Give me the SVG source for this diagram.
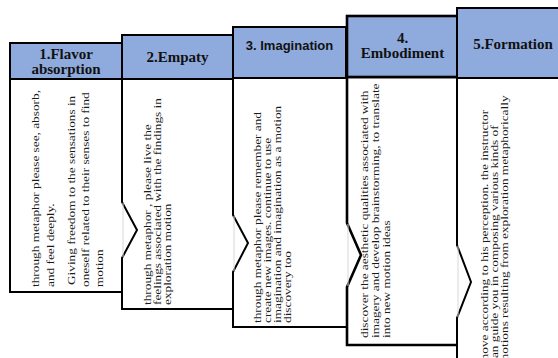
<svg xmlns="http://www.w3.org/2000/svg" width="558" height="358" viewBox="0 0 558 358">
<style>
.body{fill:#fff;stroke:#000;stroke-width:2;stroke-linejoin:miter}
.hdr{fill:#8FAADC;stroke:#000;stroke-width:2}
.thick{stroke-width:2.6}
.faint{stroke:#d8d8d8;stroke-width:1}
.ht{font-family:"Liberation Serif","Times New Roman",serif;font-weight:bold;font-size:15px;fill:#111;text-anchor:middle}
.hs{font-family:"Liberation Sans",Arial,sans-serif;font-weight:bold;font-size:13px;fill:#111;text-anchor:middle}
.bt{font-family:"Liberation Serif","Times New Roman",serif;font-size:10px;fill:#1a1a1a}
</style>
<rect width="558" height="358" fill="#fff"/>
<g id="connectors"></g>
<g id="node1">
<path class="body" d="M122 292 H10 V79 H122"/>
<rect class="hdr" x="10" y="43" width="112" height="36"/>
<text class="ht" x="66" y="59">1.Flavor</text>
<text class="ht" x="66" y="74">absorption</text>
<text class="bt" transform="translate(39,287) rotate(-90) scale(1.33,1)">through metaphor please see, absorb,</text>
<text class="bt" transform="translate(54,287) rotate(-90) scale(1.33,1)">and feel deeply.</text>
<text class="bt" transform="translate(75,285) rotate(-90) scale(1.33,1)">Giving freedom  to the sensations in</text>
<text class="bt" transform="translate(89,287) rotate(-90) scale(1.33,1)">oneself related to their senses to find</text>
<text class="bt" transform="translate(103,287) rotate(-90) scale(1.33,1)">motion</text>
</g>
<g id="node2">
<path class="body" d="M233 309 H122 V258 L137 230 L122 202 V79 H233"/>
<line class="faint" x1="123" y1="203" x2="123" y2="257"/>
<rect class="hdr" x="122" y="35" width="111" height="44"/>
<text class="ht" x="177.5" y="62">2.Empaty</text>
<text class="bt" transform="translate(151,305) rotate(-90) scale(1.33,1)">through metaphor , please live the</text>
<text class="bt" transform="translate(161,305) rotate(-90) scale(1.33,1)">feelings associated with the findings in</text>
<text class="bt" transform="translate(171,305) rotate(-90) scale(1.33,1)">exploration motion</text>
</g>
<g id="node3">
<path class="body" d="M346 327 H233 V272 L248 243 L233 215 V78 H346"/>
<line class="faint" x1="234" y1="216" x2="234" y2="271"/>
<rect class="hdr" x="233" y="27" width="113" height="51"/>
<text class="hs" x="289.5" y="50">3. Imagination</text>
<text class="bt" transform="translate(261,323) rotate(-90) scale(1.33,1)">through metaphor please remember and</text>
<text class="bt" transform="translate(271,323) rotate(-90) scale(1.33,1)">create new images. continue to use</text>
<text class="bt" transform="translate(281,323) rotate(-90) scale(1.33,1)">imagination and imagination as a motion</text>
<text class="bt" transform="translate(291,323) rotate(-90) scale(1.33,1)">discovery too</text>
</g>
<g id="node4">
<path class="body thick" d="M458 345 H347 V287 L361 255 L347 223 V77 H458"/>
<line class="faint" x1="348" y1="224" x2="348" y2="286"/>
<rect class="hdr thick" x="347" y="16" width="111" height="61"/>
<text class="ht" x="402.5" y="43">4.</text>
<text class="ht" x="402.5" y="58">Embodiment</text>
<text class="bt" transform="translate(368,338) rotate(-90) scale(1.33,1)">discover the aesthetic qualities associated with</text>
<text class="bt" transform="translate(379,338) rotate(-90) scale(1.33,1)">imagery and develop brainstorming,  to translate</text>
<text class="bt" transform="translate(390,338) rotate(-90) scale(1.33,1)">into new motion ideas</text>
</g>
<g id="node5">
<path class="body" d="M570 370 H457 V318 L471 282 L457 245 V78 H570"/>
<line class="faint" x1="458" y1="246" x2="458" y2="317"/>
<rect class="hdr" x="457" y="8" width="113" height="70"/>
<text class="ht" x="513" y="49">5.Formation</text>
<text class="bt" transform="translate(488,364) rotate(-90) scale(1.33,1)">move according to his perception. the instructor</text>
<text class="bt" transform="translate(498,364) rotate(-90) scale(1.33,1)">can guide you in composing various kinds of</text>
<text class="bt" transform="translate(508,364) rotate(-90) scale(1.33,1)">motions resulting from exploration metaphorically</text>
</g>
</svg>
